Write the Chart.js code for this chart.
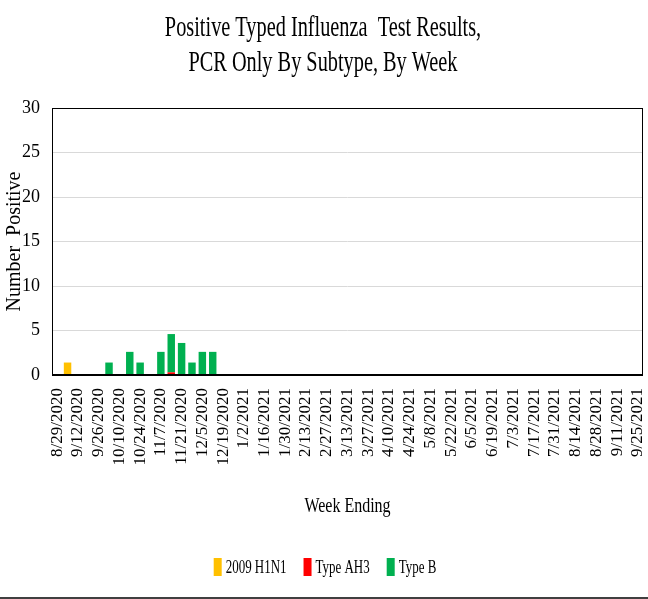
<!DOCTYPE html>
<html>
<head>
<meta charset="utf-8">
<script src="https://cdn.jsdelivr.net/npm/chart.js@4.4.1/dist/chart.umd.min.js"></script>
<style>
    html, body { margin: 0; padding: 0; background: #fff; }
    #wrap { width: 648px; height: 597px; border-bottom: 2px solid #404040; }
</style>
</head>
<body>
<div id="wrap"><canvas id="chart" width="648" height="597"></canvas></div>
<script>
const weeks = [
    '8/29/2020', '9/5/2020', '9/12/2020', '9/19/2020', '9/26/2020', '10/3/2020', '10/10/2020', '10/17/2020',
    '10/24/2020', '10/31/2020', '11/7/2020', '11/14/2020', '11/21/2020', '11/28/2020', '12/5/2020', '12/12/2020',
    '12/19/2020', '12/26/2020', '1/2/2021', '1/9/2021', '1/16/2021', '1/23/2021', '1/30/2021', '2/6/2021',
    '2/13/2021', '2/20/2021', '2/27/2021', '3/6/2021', '3/13/2021', '3/20/2021', '3/27/2021', '4/3/2021',
    '4/10/2021', '4/17/2021', '4/24/2021', '5/1/2021', '5/8/2021', '5/15/2021', '5/22/2021', '5/29/2021',
    '6/5/2021', '6/12/2021', '6/19/2021', '6/26/2021', '7/3/2021', '7/10/2021', '7/17/2021', '7/24/2021',
    '7/31/2021', '8/7/2021', '8/14/2021', '8/21/2021', '8/28/2021', '9/4/2021', '9/11/2021', '9/18/2021',
    '9/25/2021'
];

// first 18 weeks, the rest of the season is empty
const h1n1 = [0, 1.4, 0, 0, 0, 0, 0, 0, 0, 0, 0, 0, 0, 0, 0, 0, 0, 0];
const ah3  = [0, 0, 0, 0, 0, 0, 0, 0, 0, 0, 0, 0.3, 0, 0, 0, 0, 0, 0];
const typeB = [0, 0, 0, 0, 0, 1.4, 0, 2.6, 1.4, 0, 2.6, 4.3, 3.6, 1.4, 2.6, 2.6, 0, 0];

const yTicks = [0, 5, 10, 15, 20, 25, 30];
const titleLines = ['Positive Typed Influenza  Test Results,', 'PCR Only By Subtype, By Week'];
const xTitle = 'Week Ending';

const padOut = (arr) => weeks.map((w, i) => (i < arr.length ? arr[i] : 0));

// Excel-ish condensed serif text, drawn squeezed sideways
function squishText(ctx, text, x, y, size, squeeze, align) {
    ctx.save();
    ctx.font = size + 'px "Liberation Serif", "Times New Roman", serif';
    ctx.fillStyle = '#000';
    ctx.textBaseline = 'middle';
    ctx.textAlign = align;
    ctx.translate(x, y);
    ctx.scale(squeeze, 1);
    ctx.fillText(text, 0, 0);
    ctx.restore();
}

const decorations = {
    id: 'decorations',
    afterDraw(chart) {
        const ctx = chart.ctx;
        const area = chart.chartArea;

        // frame round the plot
        ctx.save();
        ctx.strokeStyle = '#000';
        ctx.lineWidth = 1;
        ctx.strokeRect(area.left + 0.5, area.top + 0.5, area.right - area.left - 1, area.bottom - area.top);
        ctx.lineWidth = 2;
        ctx.beginPath();
        ctx.moveTo(area.left, area.bottom);
        ctx.lineTo(area.right, area.bottom);
        ctx.stroke();
        ctx.restore();

        // title
        squishText(ctx, titleLines[0], 323, 28, 29, 0.7, 'center');
        squishText(ctx, titleLines[1], 323, 63, 29, 0.7, 'center');

        // x axis title
        squishText(ctx, xTitle, (area.left + area.right) / 2, 507, 20, 0.8, 'center');

        // legend
        const items = chart.data.datasets;
        const gap = 17;
        const size = 18, squeeze = 0.72;
        ctx.save();
        ctx.font = size + 'px "Liberation Serif", serif';
        const widths = items.map(d => ctx.measureText(d.label).width * squeeze);
        ctx.restore();
        let total = gap * (items.length - 1);
        widths.forEach(w => { total += 12 + w; });
        let x = 325 - total / 2;
        const y = 567;
        items.forEach((d, i) => {
            ctx.fillStyle = d.backgroundColor;
            ctx.fillRect(x, y - 9, 8, 18);
            squishText(ctx, d.label, x + 12, y + 1, size, squeeze, 'left');
            x += 12 + widths[i] + gap;
        });
    }
};

const config = {
    type: 'bar',
    data: {
        labels: weeks,
        datasets: [
            {
                label: '2009 H1N1',
                data: padOut(h1n1),
                backgroundColor: '#FFC000',
                barPercentage: 0.72,
                categoryPercentage: 1
            },
            {
                label: 'Type AH3',
                data: padOut(ah3),
                backgroundColor: '#FF0000',
                barPercentage: 0.72,
                categoryPercentage: 1
            },
            {
                label: 'Type B',
                data: padOut(typeB),
                backgroundColor: '#00B050',
                barPercentage: 0.72,
                categoryPercentage: 1
            }
        ]
    },
    options: {
        responsive: false,
        animation: false,
        layout: {
            padding: { top: 108, right: 5, left: 0, bottom: 0 }
        },
        plugins: {
            legend: { display: false },
            title: { display: false },
            tooltip: { enabled: false }
        },
        scales: {
            x: {
                stacked: true,
                grid: { display: false, drawTicks: false },
                border: { display: false },
                ticks: {
                    autoSkip: false,
                    minRotation: 90,
                    maxRotation: 90,
                    padding: 13,
                    color: '#000',
                    font: { family: '"Liberation Serif", serif', size: 17 },
                    callback: function (value, index) {
                        return index % 2 === 0 ? weeks[index] : '';
                    }
                },
                afterFit: (scale) => {
                    scale.height = 222;
                    scale.paddingLeft = 0;
                    scale.paddingRight = 0;
                }
            },
            y: {
                stacked: true,
                min: 0,
                max: 30,
                grid: { color: '#D9D9D9', drawTicks: false },
                border: { display: false },
                afterBuildTicks: (scale) => { scale.ticks = yTicks.map(v => ({ value: v })); },
                ticks: {
                    padding: 12,
                    color: '#000',
                    font: { family: '"Liberation Serif", serif', size: 18 }
                },
                title: {
                    display: true,
                    text: 'Number  Positive',
                    color: '#000',
                    font: { family: '"Liberation Serif", serif', size: 20 },
                    padding: { top: 3, bottom: 0 }
                },
                afterFit: (scale) => {
                    scale.width = 52;
                    scale.paddingTop = 0;
                    scale.paddingBottom = 0;
                }
            }
        }
    },
    plugins: [decorations]
};

window.onload = () => {
    new Chart(document.getElementById('chart').getContext('2d'), config);
};
</script>
</body>
</html>
